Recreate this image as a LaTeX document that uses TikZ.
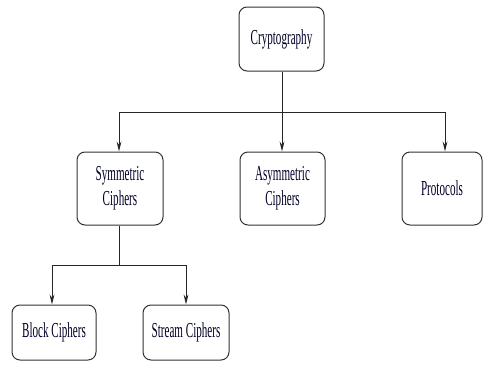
\documentclass[tikz,border=0pt]{standalone}
\usepackage{fontspec}
\setmainfont{Liberation Serif}
\usetikzlibrary{arrows.meta}
% narrow, tall lettering used for every label
\newcommand{\lbl}[1]{\scalebox{0.52}[1]{#1}}
\begin{document}
\begin{tikzpicture}[x=0.75pt,y=-0.75pt,
  box/.style={draw=black!80, line width=0.75pt, rounded corners=6pt,
    inner sep=0pt, align=center, text=black!85!blue,
    font=\fontsize{16}{18.5}\selectfont},
  link/.style={draw=black!85, line width=0.75pt},
  arr/.style={link, -{Stealth[length=7.5pt,width=3.6pt]}}]
\useasboundingbox (0,0) rectangle (484,371);
% category boxes
\node[box, minimum width=63.75pt, minimum height=48pt] (crypto) at (281.5,39) {\lbl{Cryptography}};
\node[box, minimum width=64.5pt, minimum height=54.75pt] (sym) at (120,188.5) {\lbl{Symmetric}\\\lbl{Ciphers}};
\node[box, minimum width=63.75pt, minimum height=54.75pt] (asym) at (282.5,188.5) {\lbl{Asymmetric}\\\lbl{Ciphers}};
\node[box, minimum width=60pt, minimum height=54.75pt] (proto) at (442,188.5) {\lbl{Protocols}};
\node[box, minimum width=63pt, minimum height=41.25pt] (block) at (54,332.5) {\lbl{Block Ciphers}};
\node[box, minimum width=64.5pt, minimum height=41.25pt] (stream) at (186,332.5) {\lbl{Stream Ciphers}};
% junction points of the tree
\coordinate (j1) at (282,112);
\coordinate (j2) at (119,265);
% first level
\draw[link] (crypto.south -| j1) -- (j1);
\draw[arr] (j1) -| (sym.north -| 119,0);
\draw[arr] (j1) -- (asym.north -| j1);
\draw[arr] (j1) -| (proto.north -| 445,0);
% second level
\draw[link] (sym.south -| j2) -- (j2);
\draw[arr] (j2) -| (block.north -| 52,0);
\draw[arr] (j2) -| (stream.north -| 186,0);
\end{tikzpicture}
\end{document}
